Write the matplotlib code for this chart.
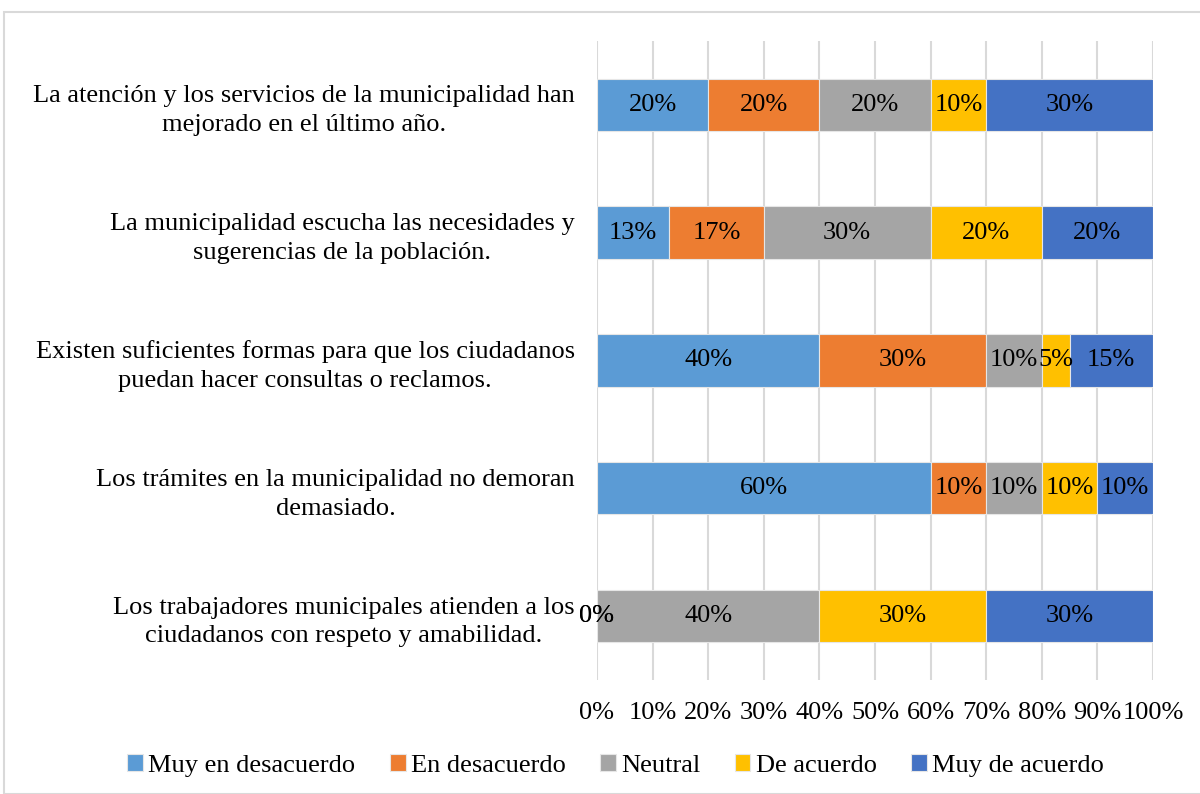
import matplotlib.pyplot as plt
from matplotlib.patches import Rectangle

plt.rcParams['font.family'] = ['Liberation Serif', 'DejaVu Serif']

preguntas = [
    'La atención y los servicios de la municipalidad han\nmejorado en el último año.',
    'La municipalidad escucha las necesidades y\nsugerencias de la población.',
    'Existen suficientes formas para que los ciudadanos\npuedan hacer consultas o reclamos.',
    'Los trámites en la municipalidad no demoran\ndemasiado.',
    'Los trabajadores municipales atienden a los\nciudadanos con respeto y amabilidad.',
]
series = ['Muy en desacuerdo', 'En desacuerdo', 'Neutral', 'De acuerdo', 'Muy de acuerdo']
muy_desacuerdo = [20, 13, 40, 60, 0]
desacuerdo = [20, 17, 30, 10, 0]
neutral = [20, 30, 10, 10, 40]
de_acuerdo = [10, 20, 5, 10, 30]
muy_acuerdo = [30, 20, 15, 10, 30]
colores = ['#5B9BD5', '#ED7D31', '#A5A5A5', '#FFC000', '#4472C4']

datos = [muy_desacuerdo, desacuerdo, neutral, de_acuerdo, muy_acuerdo]
fs = 19

fig = plt.figure(figsize=(12, 7.94), dpi=100)
ax = fig.add_axes([0.4975, 0.1436, 0.4633, 0.8048])

y = list(range(len(preguntas)))
left = [0] * len(preguntas)
for nombre, vals, c in zip(series, datos, colores):
    ax.barh(y, vals, left=left, height=0.41, color=c, label=nombre,
            edgecolor='#E6E6E6', linewidth=0.8, zorder=2)
    for i, v in enumerate(vals):
        ax.text(left[i] + v / 2, i, f'{v}%', ha='center', va='center',
                fontsize=fs, color='black', zorder=3)
    left = [l + v for l, v in zip(left, vals)]

ax.set_xlim(0, 100)
ax.set_ylim(len(preguntas) - 0.5, -0.5)
ax.set_xticks(range(0, 101, 10))
ax.set_xticklabels([f'{t}%' for t in range(0, 101, 10)], fontsize=fs)
ax.set_yticks(y)
ax.set_yticklabels(preguntas, fontsize=fs, multialignment='center', linespacing=1.4)
ax.tick_params(axis='both', length=0)
ax.tick_params(axis='x', pad=16)
ax.tick_params(axis='y', pad=16)
ax.grid(axis='x', color='#D9D9D9', linewidth=1.5, zorder=0)
for s in ax.spines.values():
    s.set_visible(False)

ax.legend(loc='center', bbox_to_anchor=(0.513, 0.036), bbox_transform=fig.transFigure,
          ncol=5, frameon=False, fontsize=fs, handlelength=0.6, handleheight=0.6,
          columnspacing=1.3, handletextpad=0.2)

fig.patches.append(Rectangle((4 / 1200, 0), 1.1, 1 - 12 / 794, transform=fig.transFigure,
                             fill=False, edgecolor='#D9D9D9', linewidth=1.5))

fig.savefig('out.png', dpi=100)
